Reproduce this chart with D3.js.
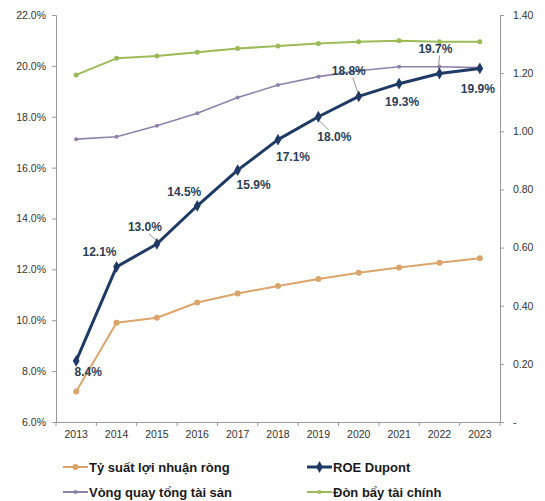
<!DOCTYPE html>
<html>
<head>
<meta charset="utf-8">
<script src="https://cdn.jsdelivr.net/npm/d3@7"></script>
<style>
  body { margin: 0; background: #fff; }
  text { font-family: "Liberation Sans", Arial, sans-serif; }
</style>
</head>
<body>
<div id="chart"></div>
<script>
// data
const years = ["2013", "2014", "2015", "2016", "2017", "2018", "2019", "2020", "2021", "2022", "2023"];
const roe = [8.4, 12.1, 13.0, 14.5, 15.9, 17.1, 18.0, 18.8, 19.3, 19.7, 19.9];
const netMargin = [7.2, 9.9, 10.1, 10.7, 11.05, 11.35, 11.62, 11.87, 12.07, 12.26, 12.44];
const assetTurnover = [0.973, 0.981, 1.019, 1.062, 1.116, 1.159, 1.188, 1.208, 1.222, 1.222, 1.219];
const leverage = [1.194, 1.251, 1.259, 1.272, 1.285, 1.293, 1.302, 1.308, 1.311, 1.308, 1.308];
const leftTicks = [6, 8, 10, 12, 14, 16, 18, 20, 22];
const rightTicks = [0, 0.2, 0.4, 0.6, 0.8, 1.0, 1.2, 1.4];

// label placement for ROE values (offset from point, optional leader)
const roeLabelPos = [
  [12, 11, 0], [-17, -15, 0], [-12, -17, 1], [-13, -14, 0], [16, 15, 0], [15, 17, 0],
  [16, 20, 1], [-10, -26, 1], [3, 18, 0], [-4, -25, 1], [-2, 20, 0]
];

const W = 545, H = 501;
const plot = { left: 56, right: 500, top: 15, bottom: 422 };

const svg = d3.select("#chart").append("svg")
  .attr("width", W)
  .attr("height", H);

const x = d3.scaleBand().domain(years).range([plot.left, plot.right]);
const yL = d3.scaleLinear().domain([6, 22]).range([plot.bottom, plot.top]);
const yR = d3.scaleLinear().domain([0, 1.4]).range([plot.bottom, plot.top]);
const cx = function (d, i) { return x(years[i]) + x.bandwidth() / 2; };

// left axis
const axL = svg.append("g")
  .attr("transform", "translate(" + plot.left + ",0)")
  .call(d3.axisLeft(yL).tickValues(leftTicks).tickSize(4).tickPadding(6)
    .tickFormat(function (d) { return d.toFixed(1) + "%"; }));

// right axis
const axR = svg.append("g")
  .attr("transform", "translate(" + plot.right + ",0)")
  .call(d3.axisRight(yR).tickValues(rightTicks).tickSize(4).tickPadding(9)
    .tickFormat(function (d) { return d === 0 ? " -" : d.toFixed(2); }));

// bottom axis with ticks between categories
const axB = svg.append("g")
  .attr("transform", "translate(0," + plot.bottom + ")")
  .call(d3.axisBottom(x).tickSize(0).tickPadding(9));
axB.selectAll(".tickmark")
  .data(d3.range(years.length + 1))
  .enter()
  .append("line")
  .attr("x1", function (d) { return plot.left + d * x.bandwidth(); })
  .attr("x2", function (d) { return plot.left + d * x.bandwidth(); })
  .attr("y1", 0)
  .attr("y2", 4)
  .attr("stroke", "#9a9a9a");

[axL, axR, axB].forEach(function (g) {
  g.selectAll(".domain").attr("stroke", "#9a9a9a");
  g.selectAll(".tick line").attr("stroke", "#9a9a9a");
  g.selectAll("text")
    .style("font-size", "10.5px")
    .attr("fill", "#333");
});

// lines
function drawSeries(values, scale, color, width, markerR) {
  const line = d3.line()
    .x(function (d, i) { return cx(d, i); })
    .y(function (d) { return scale(d); });
  svg.append("path")
    .datum(values)
    .attr("fill", "none")
    .attr("stroke", color)
    .attr("stroke-width", width)
    .attr("stroke-linejoin", "round")
    .attr("d", line);
  svg.append("g")
    .selectAll("circle")
    .data(values)
    .enter()
    .append("circle")
    .attr("cx", function (d, i) { return cx(d, i); })
    .attr("cy", function (d) { return scale(d); })
    .attr("r", markerR)
    .attr("fill", color);
}

drawSeries(leverage, yR, "#9bbb59", 2, 2.5);
drawSeries(assetTurnover, yR, "#8f82a9", 1.6, 2);
drawSeries(netMargin, yL, "#d9a56c", 2, 3);

// ROE Dupont
const roeColor = "#1f3b63";
svg.append("path")
  .datum(roe)
  .attr("fill", "none")
  .attr("stroke", roeColor)
  .attr("stroke-width", 3)
  .attr("stroke-linejoin", "round")
  .attr("d", d3.line()
    .x(function (d, i) { return cx(d, i); })
    .y(function (d) { return yL(d); }));

svg.append("g")
  .selectAll("path")
  .data(roe)
  .enter()
  .append("path")
  .attr("d", d3.symbol().type(d3.symbolDiamond).size(40))
  .attr("transform", function (d, i) {
    return "translate(" + cx(d, i) + "," + yL(d) + ")";
  })
  .attr("fill", roeColor);

// leader lines and labels
roe.forEach(function (d, i) {
  const px = cx(d, i), py = yL(d);
  const p = roeLabelPos[i];
  const lx = px + p[0], ly = py + p[1];
  if (p[2]) {
    const sy = p[1] < 0 ? ly + 7 : ly - 7;
    svg.append("line")
      .attr("x1", lx + (p[0] < 0 ? 4 : -6))
      .attr("y1", sy)
      .attr("x2", px + (p[0] < 0 ? -1 : 1))
      .attr("y2", py + (p[1] < 0 ? -4 : 4))
      .attr("stroke", "#777")
      .attr("stroke-width", 0.8);
  }
  svg.append("text")
    .attr("x", lx)
    .attr("y", ly)
    .attr("dy", "0.35em")
    .attr("text-anchor", "middle")
    .style("font-size", "12px")
    .style("font-weight", "bold")
    .attr("fill", "#2c3e55")
    .text(d.toFixed(1) + "%");
});

// legend
const legend = [
  { name: "Tỷ suất lợi nhuận ròng", color: "#d9a56c", x: 63, y: 467, r: 3, diamond: false },
  { name: "ROE Dupont", color: roeColor, x: 307, y: 467, r: 3, diamond: true },
  { name: "Vòng quay tổng tài sản", color: "#8f82a9", x: 63, y: 492, r: 2, diamond: false },
  { name: "Đòn bẩy tài chính", color: "#9bbb59", x: 307, y: 492, r: 2, diamond: false }
];

const lg = svg.append("g")
  .selectAll("g")
  .data(legend)
  .enter()
  .append("g")
  .attr("transform", function (d) { return "translate(" + d.x + "," + d.y + ")"; });

lg.append("line")
  .attr("x1", 0).attr("x2", 25)
  .attr("y1", 0).attr("y2", 0)
  .attr("stroke", function (d) { return d.color; })
  .attr("stroke-width", function (d) { return d.diamond ? 3 : 2; });

lg.append("path")
  .attr("d", function (d) {
    return d3.symbol().type(d.diamond ? d3.symbolDiamond : d3.symbolCircle)
      .size(d.diamond ? 40 : d.r * d.r * 3.14)();
  })
  .attr("transform", "translate(12.5,0)")
  .attr("fill", function (d) { return d.color; });

lg.append("text")
  .attr("x", 26)
  .attr("dy", "0.35em")
  .style("font-size", "13px")
  .style("font-weight", "bold")
  .attr("fill", "#1a1a1a")
  .text(function (d) { return d.name; });
</script>
</body>
</html>
